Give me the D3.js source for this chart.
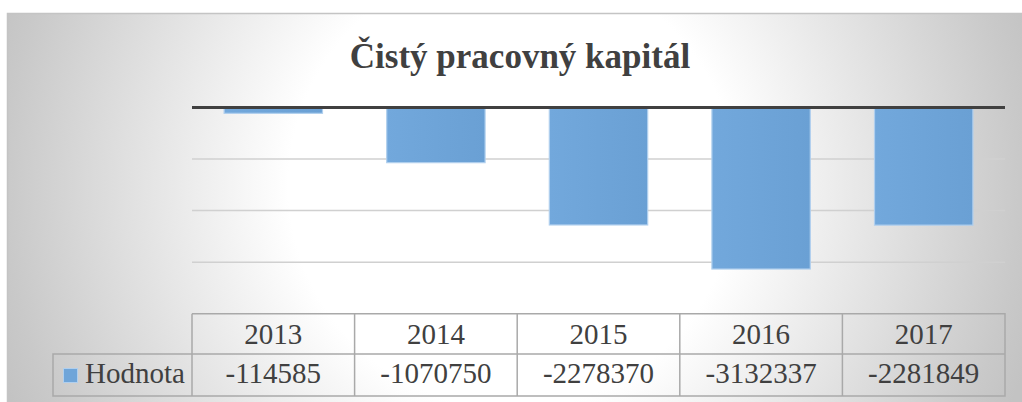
<!DOCTYPE html>
<html>
<head>
<meta charset="utf-8">
<script src="https://cdn.jsdelivr.net/npm/d3@7"></script>
</head>
<body style="margin:0">
<script>
// Chart data
var title = "Čistý pracovný kapitál";
var seriesName = "Hodnota";
var years = ["2013", "2014", "2015", "2016", "2017"];
var values = [-114585, -1070750, -2278370, -3132337, -2281849];
var yDomain = [-4000000, 0];

// 1. Sizes
var W = 1022, H = 402;
var plot = {left: 192, right: 1005, top: 107.4, bottom: 313.8};
var legendLeft = 53;
var row1 = {top: 313.8, bottom: 354}, row2 = {top: 354, bottom: 396};
var textColor = "#404040", barColor = "#6fa5d9", gridColor = "#d0d0d0", tableColor = "#a9a9a9";
var font = "Liberation Serif, Times New Roman, serif";

var svg = d3.select("body").append("svg")
    .attr("width", W)
    .attr("height", H)
    .attr("font-family", font)
    .style("display", "block");

// 2. Background with radial gradient
var defs = svg.append("defs");
var bg = defs.append("radialGradient")
    .attr("id", "bg")
    .attr("gradientUnits", "userSpaceOnUse")
    .attr("cx", 512).attr("cy", 185).attr("r", 545);
bg.append("stop").attr("offset", 0.41).attr("stop-color", "#ffffff");
bg.append("stop").attr("offset", 0.93).attr("stop-color", "#c9c9c9");
bg.append("stop").attr("offset", 1).attr("stop-color", "#c3c3c3");

var barGrad = defs.append("linearGradient").attr("id", "bar")
    .attr("x1", 0).attr("x2", 1).attr("y1", 0).attr("y2", 0);
barGrad.append("stop").attr("offset", 0).attr("stop-color", "#72a8dc");
barGrad.append("stop").attr("offset", 1).attr("stop-color", "#6aa0d4");

svg.append("rect")
    .attr("x", 7.5).attr("y", 13.5)
    .attr("width", 1040).attr("height", 420)
    .attr("fill", "url(#bg)")
    .attr("stroke", "#c4c4c4")
    .attr("stroke-width", 1.5);

// 3. Scales
var x = d3.scaleBand()
    .domain(years)
    .range([plot.left, plot.right])
    .paddingInner(0.395)
    .paddingOuter(0.1975);

var xCol = d3.scaleBand()
    .domain(years)
    .range([plot.left, plot.right]);

var y = d3.scaleLinear()
    .domain(yDomain)
    .range([plot.bottom, plot.top]);

// Title
svg.append("text")
    .attr("x", 520)
    .attr("y", 68)
    .attr("text-anchor", "middle")
    .attr("font-family", font)
    .attr("font-weight", "bold")
    .attr("font-size", 35)
    .attr("fill", textColor)
    .text(title);

// Gridlines
svg.append("g")
    .attr("class", "grid")
    .selectAll("line")
    .data(y.ticks(4).filter(function(d) { return d !== 0 && d !== yDomain[0]; }))
    .enter().append("line")
    .attr("x1", plot.left).attr("x2", plot.right)
    .attr("y1", function(d) { return y(d); })
    .attr("y2", function(d) { return y(d); })
    .attr("stroke", gridColor)
    .attr("stroke-width", 1.5);

// Bars
svg.selectAll(".bar")
    .data(values)
    .enter().append("rect")
    .attr("class", "bar")
    .attr("x", function(d, i) { return x(years[i]); })
    .attr("width", x.bandwidth())
    .attr("y", y(0))
    .attr("height", function(d) { return y(d) - y(0); })
    .attr("fill", "url(#bar)")
    .attr("stroke", "#b0cfee")
    .attr("stroke-width", 1.2);

// Zero line
svg.append("line")
    .attr("x1", plot.left).attr("x2", plot.right)
    .attr("y1", y(0)).attr("y2", y(0))
    .attr("stroke", "#404040")
    .attr("stroke-width", 3);

// 4. Data table
var table = svg.append("g")
    .attr("fill", "none")
    .attr("stroke", tableColor)
    .attr("stroke-width", 1.5);

table.append("path")
    .attr("d", "M" + plot.left + "," + row1.top + "H" + plot.right + "V" + row2.bottom +
               "H" + legendLeft + "V" + row2.top + "H" + plot.right +
               "M" + plot.left + "," + row1.top + "V" + row2.bottom +
               "M" + legendLeft + "," + row2.top + "V" + row2.bottom);

table.selectAll(".col")
    .data(years.slice(1))
    .enter().append("line")
    .attr("x1", function(d) { return xCol(d); })
    .attr("x2", function(d) { return xCol(d); })
    .attr("y1", row1.top).attr("y2", row2.bottom);

svg.selectAll(".yearLabel")
    .data(years)
    .enter().append("text")
    .attr("class", "yearLabel")
    .attr("x", function(d) { return xCol(d) + xCol.bandwidth() / 2; })
    .attr("y", 344)
    .attr("text-anchor", "middle")
    .attr("font-family", font)
    .attr("font-size", 29)
    .attr("fill", textColor)
    .text(function(d) { return d; });

svg.selectAll(".valLabel")
    .data(values)
    .enter().append("text")
    .attr("class", "valLabel")
    .attr("x", function(d, i) { return xCol(years[i]) + xCol.bandwidth() / 2; })
    .attr("y", 382.5)
    .attr("text-anchor", "middle")
    .attr("font-family", font)
    .attr("font-size", 29)
    .attr("fill", textColor)
    .text(function(d) { return String(d); });

// Legend key
svg.append("rect")
    .attr("x", 63.5).attr("y", 368.5)
    .attr("width", 14).attr("height", 14)
    .attr("fill", barColor)
    .attr("stroke", "#b0cfee")
    .attr("stroke-width", 1);

svg.append("text")
    .attr("x", 85)
    .attr("y", 382.5)
    .attr("font-family", font)
    .attr("font-size", 29)
    .attr("fill", textColor)
    .text(seriesName);
</script>
</body>
</html>
